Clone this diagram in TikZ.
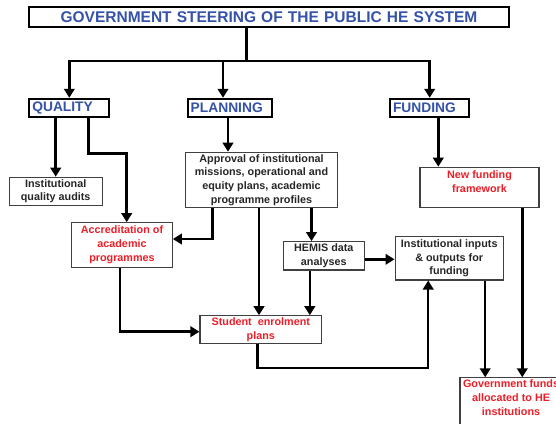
\documentclass[tikz,border=0pt]{standalone}
\usepackage{fontspec}
\setmainfont{Liberation Sans}
\usetikzlibrary{arrows.meta}

\definecolor{headblue}{RGB}{52,82,168}
\definecolor{itemred}{RGB}{238,30,40}

\begin{document}
\begin{tikzpicture}[x=1pt,y=-1pt,
    head/.style={draw=black, line width=1.8pt, text=headblue, align=left,
        font=\fontsize{13.8}{16}\selectfont\bfseries, inner xsep=3pt, inner ysep=0pt},
    item/.style={draw=black!75, line width=1.1pt, text=black!85, align=center,
        font=\fontsize{10.8}{13.8}\selectfont\bfseries, inner sep=2pt},
    flow/.style={line width=2.5pt, -{Triangle[width=10.5pt,length=9pt]}},
    link/.style={line width=2.5pt}]

\useasboundingbox[fill=white] (0,0) rectangle (556,423);

\coordinate (hub) at (246.7,61);

\node[head, text width=473.4pt, align=center, minimum height=20pt,
    font=\fontsize{15.5}{18}\selectfont\bfseries] (steer) at (269,16.7)
    {GOVERNMENT STEERING OF THE PUBLIC HE SYSTEM};

\node[head, text width=74pt, minimum height=18.6pt] (quality) at (69.3,108) {QUALITY};
\node[head, text width=78.6pt, minimum height=18.6pt] (planning) at (230,108) {PLANNING};
\node[head, text width=73.3pt, minimum height=18.6pt] (funding) at (429.7,108) {FUNDING};

\node[item, minimum width=92.7pt, minimum height=27.7pt] (audits) at (55.7,191.2)
    {Institutional\\quality audits};
\node[item, text=itemred, minimum width=100.6pt, minimum height=44.6pt] (accred) at (122,245)
    {Accreditation of\\academic\\programmes};
\node[item, minimum width=151.6pt, minimum height=54.6pt] (approval) at (261.5,180)
    {Approval of institutional\\missions, operational and\\equity plans, academic\\programme profiles};
\node[item, text=itemred, minimum width=119pt, anchor=north, inner ysep=3.4pt,
    text depth=12.1pt] (framework) at (479.5,166.7) {New funding\\framework};
\node[item, minimum width=81pt, minimum height=28.3pt] (hemis) at (323.8,255.8)
    {HEMIS data\\analyses};
\node[item, minimum width=108.3pt, minimum height=43.3pt] (inputs) at (449.2,258.3)
    {Institutional inputs\\\& outputs for\\funding};
\node[item, text=itemred, minimum width=121.7pt, minimum height=27.3pt] (student) at (260.8,329.7)
    {Student~ enrolment\\plans};
\node[item, text=itemred, minimum width=102pt, anchor=north, text depth=50pt] (govt) at (511,377.3)
    {Government funds\\allocated to HE\\institutions};

% top level split
\draw[link] (steer.south -| hub) -- (hub);
\draw[flow] (hub) -| (quality);
\draw[flow] (hub) -| ([xshift=-7pt]planning.north);
\draw[flow] (hub) -| (funding);

% quality
\draw[flow] (quality.south -| audits) -- (audits);
\draw[flow] ([xshift=19pt]quality.south) -- ++(0,35.4) -| ([xshift=4.7pt]accred.north);

% planning
\draw[flow] ([xshift=-2pt]planning.south) -- ([xshift=-2pt]planning.south |- approval.north);
\draw[flow] ([xshift=-49pt]approval.south) |- ([yshift=6pt]accred.east);
\draw[flow] ([xshift=-2.5pt]approval.south) -- ([xshift=-2.5pt]approval.south |- student.north);
\draw[flow] ([xshift=50pt]approval.south) -- ([xshift=50pt]approval.south |- hemis.north);
\draw[flow] ([xshift=-14pt]hemis.south) -- ([xshift=-14pt]hemis.south |- student.north);
\draw[flow] ([yshift=-3.5pt]hemis.east) -- ([yshift=-3.5pt]hemis.east -| inputs.west);
\draw[flow] ([xshift=-2pt]accred.south) |- ([yshift=-2pt]student.west);
\draw[flow] ([xshift=-3.5pt]student.south) -- ++(0,24) -| ([xshift=-21pt]inputs.south);

% funding
\draw[flow] ([xshift=8.6pt]funding.south) -- ([xshift=8.6pt]funding.south |- framework.north);
\draw[flow] ([xshift=36pt]inputs.south) -- ([xshift=36pt]inputs.south |- govt.north);
\draw[flow] ([xshift=42.8pt]framework.south) -- ([xshift=42.8pt]framework.south |- govt.north);

\end{tikzpicture}
\end{document}
